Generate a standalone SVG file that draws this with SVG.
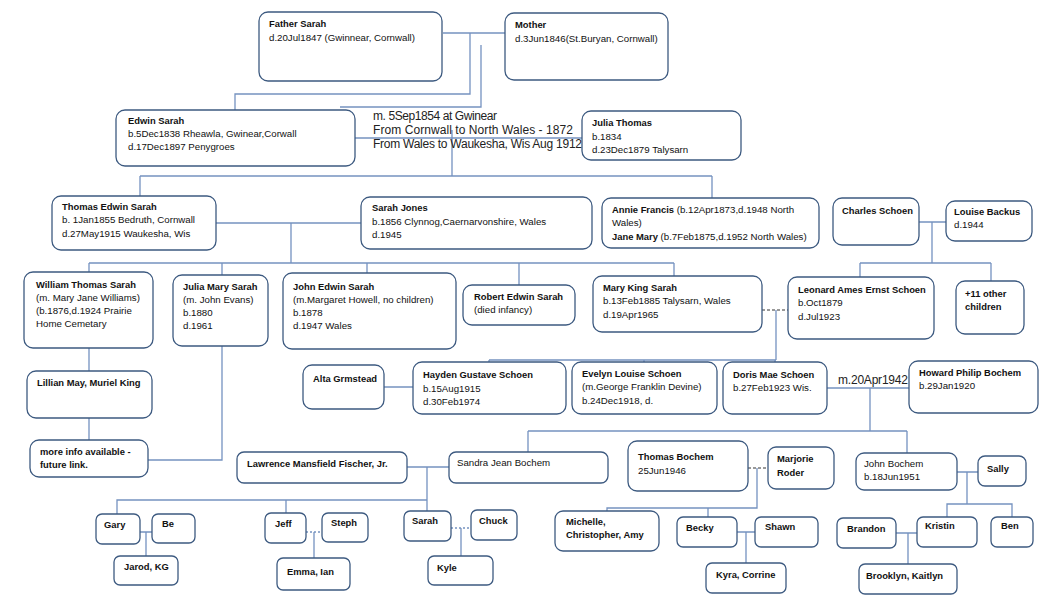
<svg xmlns="http://www.w3.org/2000/svg" width="1048" height="607" viewBox="0 0 1048 607">
<style>
.n{fill:#fff;stroke:#3d5a80;stroke-width:1.3}
.c{fill:none;stroke:#7592c0;stroke-width:1.3}
.d{fill:none;stroke:#333;stroke-width:1;stroke-dasharray:3,2}
.dt{fill:none;stroke:#7592c0;stroke-width:1.3;stroke-dasharray:2,2}
text{font-family:"Liberation Sans",Arial,sans-serif;font-size:9.7px;fill:#111}
.b{font-weight:bold;font-size:9.4px}
text .b{font-size:9.4px}
.m{font-size:12px;fill:#222}
</style>
<rect width="1048" height="607" fill="#fff"/>
<g id="connectors">
<path class="c" d="M443,33H505M470,33V94H235V110M481,45V107H340"/>
<path class="c" d="M355,138H582M452,130V176M140,176H712M140,176V196M712,176V198"/>
<path class="c" d="M216,223H361M291,223V263M89,263H674M89,263V272M222,263V275M367,263V273M519,263V285M674,263V276"/>
<path class="c" d="M919,222H946M932,222V263M860,263H991M860,263V277M991,263V281"/>
<path class="d" d="M762,310H788"/>
<path class="c" d="M776,310V360M489,360H776M489,360V362M644,360V362M775,360V362"/>
<path class="c" d="M384,387H413M827,388H909M870,388V431M528,431H907M528,431V452M907,431V453"/>
<path class="c" d="M89,348V371M89,418V440M222,346V460H148"/>
<path class="c" d="M407,467H449M427,467V500H117V514M286,500V513M427,500V511"/>
<path class="c" d="M140,532H152M146,532V556"/>
<path class="dt" d="M306,532H322"/>
<path class="c" d="M314,532V558"/>
<path class="dt" d="M451,528H471"/>
<path class="c" d="M461,528V556"/>
<path class="d" d="M748,468H768"/>
<path class="c" d="M757,468V508H607V511M708,508V517"/>
<path class="c" d="M737,532H755M746,532V563"/>
<path class="c" d="M957,472H978M967,472V504H947V517M947,504H1012V517"/>
<path class="c" d="M896,533H917M908,533V564"/>
</g>
<g id="father-sarah"><rect class="n" x="259" y="12" width="183" height="69" rx="9"/><text class="b" x="269" y="27">Father Sarah</text><text x="269" y="41">d.20Jul1847 (Gwinnear, Cornwall)</text></g>
<g id="mother"><rect class="n" x="505" y="13" width="163" height="67" rx="9"/><text class="b" x="515" y="28">Mother</text><text x="515" y="42">d.3Jun1846(St.Buryan, Cornwall)</text></g>
<g id="edwin-sarah"><rect class="n" x="116" y="110" width="239" height="56" rx="9"/><text class="b" x="128" y="124">Edwin Sarah</text><text x="128" y="137">b.5Dec1838 Rheawla, Gwinear,Corwall</text><text x="128" y="150">d.17Dec1897 Penygroes</text></g>
<g id="marriage-label"><text class="m" x="373" y="120" textLength="124">m. 5Sep1854 at Gwinear</text><text class="m" x="373" y="134" textLength="200">From Cornwall to North Wales - 1872</text><text class="m" x="373" y="148" textLength="209">From Wales to Waukesha, Wis Aug 1912</text></g>
<g id="julia-thomas"><rect class="n" x="582" y="111" width="159" height="49" rx="9"/><text class="b" x="592" y="126">Julia Thomas</text><text x="592" y="140">b.1834</text><text x="592" y="153">d.23Dec1879 Talysarn</text></g>
<g id="thomas-edwin-sarah"><rect class="n" x="52" y="196" width="164" height="54" rx="9"/><text class="b" x="62" y="210">Thomas Edwin Sarah</text><text x="62" y="223">b. 1Jan1855 Bedruth, Cornwall</text><text x="62" y="237">d.27May1915 Waukesha, Wis</text></g>
<g id="sarah-jones"><rect class="n" x="361" y="197" width="231" height="52" rx="9"/><text class="b" x="372" y="211">Sarah Jones</text><text x="372" y="225">b.1856 Clynnog,Caernarvonshire, Wales</text><text x="372" y="238">d.1945</text></g>
<g id="annie-francis"><rect class="n" x="602" y="198" width="217" height="50" rx="9"/><text x="612" y="213"><tspan class="b">Annie Francis</tspan> (b.12Apr1873,d.1948 North</text><text x="612" y="226">Wales)</text><text x="612" y="240"><tspan class="b">Jane Mary</tspan> (b.7Feb1875,d.1952 North Wales)</text></g>
<g id="charles-schoen"><rect class="n" x="833" y="198" width="86" height="47" rx="9"/><text class="b" x="842" y="214">Charles Schoen</text></g>
<g id="louise-backus"><rect class="n" x="946" y="201" width="86" height="40" rx="9"/><text class="b" x="954" y="215">Louise Backus</text><text x="954" y="228">d.1944</text></g>
<g id="william-thomas-sarah"><rect class="n" x="24" y="272" width="129" height="76" rx="9"/><text class="b" x="36" y="288">William Thomas Sarah</text><text x="36" y="301">(m. Mary Jane Williams)</text><text x="36" y="314">(b.1876,d.1924 Prairie</text><text x="36" y="327">Home Cemetary</text></g>
<g id="julia-mary-sarah"><rect class="n" x="173" y="275" width="95" height="71" rx="9"/><text class="b" x="183" y="290">Julia Mary Sarah</text><text x="183" y="303">(m. John Evans)</text><text x="183" y="316">b.1880</text><text x="183" y="329">d.1961</text></g>
<g id="john-edwin-sarah"><rect class="n" x="283" y="273" width="173" height="76" rx="9"/><text class="b" x="293" y="290">John Edwin Sarah</text><text x="293" y="303"> (m.Margaret Howell, no children)</text><text x="293" y="316">b.1878</text><text x="293" y="329">d.1947 Wales</text></g>
<g id="robert-edwin-sarah"><rect class="n" x="463" y="285" width="112" height="40" rx="9"/><text class="b" x="474" y="300">Robert Edwin Sarah</text><text x="474" y="313">(died infancy)</text></g>
<g id="mary-king-sarah"><rect class="n" x="593" y="276" width="169" height="56" rx="9"/><text class="b" x="603" y="291">Mary King Sarah</text><text x="603" y="304">b.13Feb1885 Talysarn, Wales</text><text x="603" y="318">d.19Apr1965</text></g>
<g id="leonard-schoen"><rect class="n" x="788" y="277" width="146" height="62" rx="9"/><text class="b" x="798" y="293">Leonard Ames Ernst Schoen</text><text x="798" y="306">b.Oct1879</text><text x="798" y="320">d.Jul1923</text></g>
<g id="other-children"><rect class="n" x="956" y="281" width="68" height="53" rx="9"/><text class="b" x="965" y="297">+11 other</text><text class="b" x="965" y="310">children</text></g>
<g id="lillian-muriel"><rect class="n" x="27" y="371" width="125" height="47" rx="9"/><text class="b" x="37" y="386">Lillian May, Muriel King</text></g>
<g id="more-info"><rect class="n" x="30" y="440" width="118" height="37" rx="9"/><text class="b" x="40" y="455">more info available -</text><text class="b" x="40" y="468">future link.</text></g>
<g id="alta-grmstead"><rect class="n" x="303" y="365" width="81" height="44" rx="9"/><text class="b" x="313" y="382">Alta Grmstead</text></g>
<g id="hayden-schoen"><rect class="n" x="413" y="362" width="153" height="52" rx="9"/><text class="b" x="423" y="378">Hayden Gustave Schoen</text><text x="423" y="392">b.15Aug1915</text><text x="423" y="405">d.30Feb1974</text></g>
<g id="evelyn-schoen"><rect class="n" x="572" y="362" width="145" height="52" rx="9"/><text class="b" x="582" y="377">Evelyn Louise Schoen</text><text x="582" y="390">(m.George Franklin Devine)</text><text x="582" y="404">b.24Dec1918, d.</text></g>
<g id="doris-schoen"><rect class="n" x="723" y="362" width="104" height="52" rx="9"/><text class="b" x="733" y="378">Doris Mae Schoen</text><text x="733" y="391">b.27Feb1923 Wis.</text></g>
<g id="marriage-label-2"><text class="m" x="838" y="384" textLength="70">m.20Apr1942</text></g>
<g id="howard-bochem"><rect class="n" x="909" y="361" width="129" height="52" rx="9"/><text class="b" x="919" y="376">Howard Philip Bochem</text><text x="919" y="389">b.29Jan1920</text></g>
<g id="lawrence-fischer"><rect class="n" x="237" y="452" width="170" height="31" rx="7"/><text class="b" x="247" y="467">Lawrence Mansfield Fischer, Jr.</text></g>
<g id="sandra-bochem"><rect class="n" x="449" y="452" width="159" height="31" rx="7"/><text x="457" y="466">Sandra Jean Bochem</text></g>
<g id="thomas-bochem"><rect class="n" x="628" y="441" width="120" height="50" rx="9"/><text class="b" x="638" y="460">Thomas Bochem</text><text x="638" y="474">25Jun1946</text></g>
<g id="marjorie-roder"><rect class="n" x="768" y="447" width="66" height="42" rx="8"/><text class="b" x="777" y="462">Marjorie</text><text class="b" x="777" y="476">Roder</text></g>
<g id="john-bochem"><rect class="n" x="856" y="453" width="101" height="37" rx="8"/><text x="864" y="467">John Bochem</text><text x="864" y="480">b.18Jun1951</text></g>
<g id="sally"><rect class="n" x="978" y="456" width="48" height="30" rx="7"/><text class="b" x="987" y="472">Sally</text></g>
<g id="gary"><rect class="n" x="96" y="514" width="44" height="30" rx="6"/><text class="b" x="104" y="528">Gary</text></g>
<g id="be"><rect class="n" x="152" y="514" width="43" height="29" rx="6"/><text class="b" x="162" y="527">Be</text></g>
<g id="jarod-kg"><rect class="n" x="114" y="556" width="64" height="29" rx="6"/><text class="b" x="124" y="570">Jarod, KG</text></g>
<g id="jeff"><rect class="n" x="265" y="513" width="41" height="30" rx="6"/><text class="b" x="275" y="527">Jeff</text></g>
<g id="steph"><rect class="n" x="322" y="513" width="46" height="29" rx="6"/><text class="b" x="331" y="526">Steph</text></g>
<g id="emma-ian"><rect class="n" x="277" y="558" width="73" height="32" rx="6"/><text class="b" x="287" y="575">Emma, Ian</text></g>
<g id="sarah"><rect class="n" x="404" y="511" width="47" height="30" rx="6"/><text class="b" x="412" y="524">Sarah</text></g>
<g id="chuck"><rect class="n" x="471" y="510" width="46" height="30" rx="6"/><text class="b" x="479" y="524">Chuck</text></g>
<g id="kyle"><rect class="n" x="428" y="556" width="65" height="29" rx="6"/><text class="b" x="437" y="571">Kyle</text></g>
<g id="michelle-christopher-amy"><rect class="n" x="555" y="511" width="104" height="40" rx="8"/><text class="b" x="566" y="525">Michelle,</text><text class="b" x="566" y="538">Christopher, Amy</text></g>
<g id="becky"><rect class="n" x="677" y="517" width="60" height="30" rx="6"/><text class="b" x="686" y="531">Becky</text></g>
<g id="shawn"><rect class="n" x="755" y="517" width="63" height="30" rx="6"/><text class="b" x="765" y="530">Shawn</text></g>
<g id="kyra-corrine"><rect class="n" x="706" y="563" width="80" height="30" rx="6"/><text class="b" x="716" y="578">Kyra, Corrine</text></g>
<g id="brandon"><rect class="n" x="837" y="518" width="59" height="30" rx="6"/><text class="b" x="847" y="532">Brandon</text></g>
<g id="kristin"><rect class="n" x="917" y="517" width="60" height="30" rx="6"/><text class="b" x="925" y="529">Kristin</text></g>
<g id="ben"><rect class="n" x="991" y="517" width="42" height="30" rx="6"/><text class="b" x="1001" y="529">Ben</text></g>
<g id="brooklyn-kaitlyn"><rect class="n" x="859" y="564" width="98" height="30" rx="6"/><text class="b" x="866" y="579">Brooklyn, Kaitlyn</text></g>
</svg>
